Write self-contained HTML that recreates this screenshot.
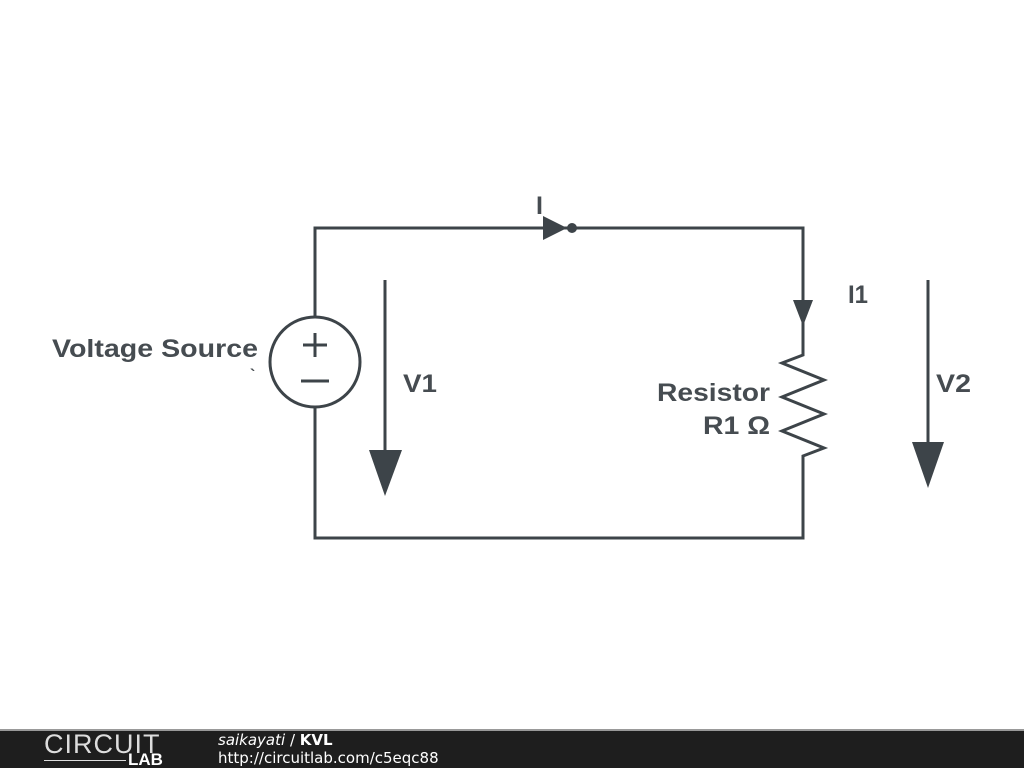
<!DOCTYPE html>
<html><head><style>
body{margin:0;width:1024px;height:768px;background:#fff;overflow:hidden;position:relative;font-family:"Liberation Sans",sans-serif}
.bar{position:absolute;left:0;top:729px;width:1024px;height:39px;background:#1e1e1e;border-top:2px solid #999;box-sizing:border-box}
</style></head><body>
<svg width="1024" height="729" style="position:absolute;left:0;top:0">
<g stroke="#3d4449" stroke-width="3" fill="none">
<polyline points="315,317 315,228 803,228 803,355 782,363 824,380 782,397 824,414 782,431 824,448 803,456 803,538 315,538 315,407"/>
<circle cx="315" cy="362" r="45"/>
<line x1="303" y1="345" x2="327" y2="345"/><line x1="315" y1="333" x2="315" y2="357"/>
<line x1="301" y1="381" x2="329" y2="381"/>
<line x1="385" y1="280" x2="385" y2="460"/>
<line x1="928" y1="280" x2="928" y2="450"/>
</g>
<g fill="#3d4449">
<polygon points="543,216 567,228 543,240"/><circle cx="572" cy="228" r="5"/>
<polygon points="793,300 813,300 803,326"/>
<polygon points="369,450 402,450 385,496"/>
<polygon points="912,442 944,442 928,488"/>
</g>
<g fill="#464c51" font-weight="bold" font-size="25" font-family="Liberation Sans,sans-serif">
<text x="536" y="214">I</text>
<text x="848" y="303" textLength="20" lengthAdjust="spacingAndGlyphs">I1</text>
<text x="52" y="357" textLength="206" lengthAdjust="spacingAndGlyphs">Voltage Source</text>
<text x="250" y="380" font-size="16">`</text>
<text x="403" y="392" textLength="34" lengthAdjust="spacingAndGlyphs">V1</text>
<text x="936" y="392" textLength="35" lengthAdjust="spacingAndGlyphs">V2</text>
<text x="657" y="401" textLength="113" lengthAdjust="spacingAndGlyphs">Resistor</text>
<text x="703" y="434" textLength="67" lengthAdjust="spacingAndGlyphs">R1 Ω</text>
</g>
</svg>
<div class="bar">
<div style="position:absolute;left:44px;top:0;color:#ddd;font-size:27px;letter-spacing:1px;font-weight:300;line-height:27px">CIRCUIT</div>
<div style="position:absolute;left:128px;top:20px;color:#fff;font-size:17px;font-weight:bold;line-height:17px">LAB</div>
<div style="position:absolute;left:44px;top:29px;width:82px;border-top:1px solid #ddd"></div>
<div style="position:absolute;left:218px;top:0px;color:#fff;font-size:15px;font-family:'DejaVu Sans',sans-serif;line-height:18px"><i>saikayati</i> / <b>KVL</b></div>
<div style="position:absolute;left:218px;top:18px;color:#fff;font-size:15px;font-family:'DejaVu Sans',sans-serif;line-height:18px">http://circuitlab.com/c5eqc88</div>
</div>
</body></html>
